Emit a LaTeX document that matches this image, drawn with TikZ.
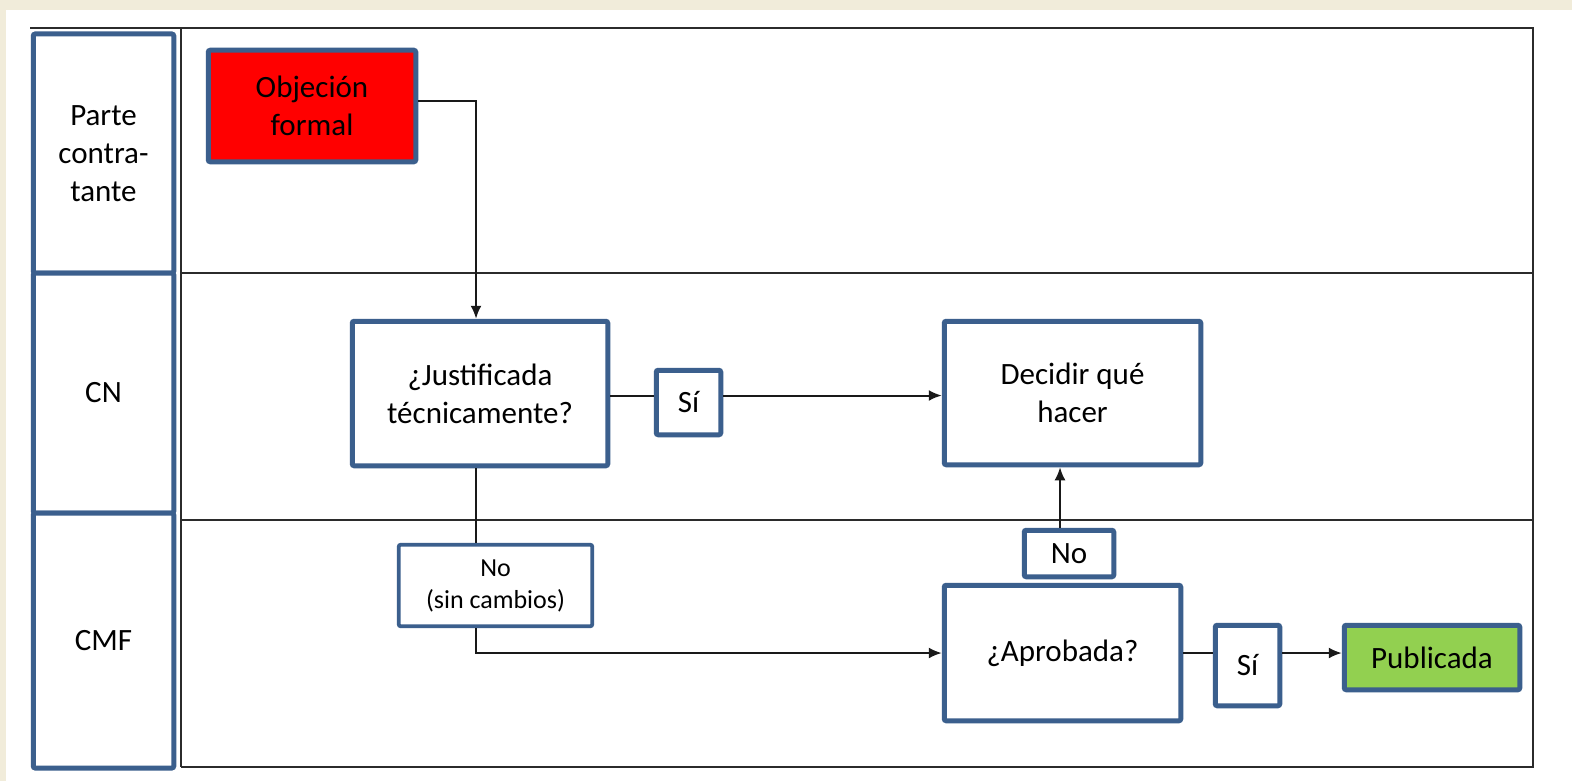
\documentclass[tikz,border=0pt]{standalone}
\usepackage{fontspec}
\setmainfont{Carlito}
\usepackage{xcolor}
\usepackage{tikz}
\usetikzlibrary{arrows.meta}
\definecolor{pagebg}{HTML}{F1ECDA}
\definecolor{boxbd}{HTML}{3B5F8D}
\definecolor{rule}{HTML}{2B2B2B}
\definecolor{objred}{HTML}{FF0000}
\definecolor{pubgreen}{HTML}{92D050}
\tikzset{
  flowbox/.style={draw=boxbd, line width=2.5pt, rounded corners=1pt, fill=white,
    align=center, inner sep=0pt, font=\fontsize{15.5}{19}\selectfont},
  lanebox/.style={flowbox, minimum width=70.25pt},
  smallbox/.style={flowbox, line width=1.9pt, font=\fontsize{13}{16}\selectfont},
  tablerule/.style={draw=rule, line width=1pt},
  conn/.style={draw=black!90, line width=1pt},
  arr/.style={conn, -{Latex[length=6.5pt,width=5.5pt]}}
}

\begin{document}
\begin{tikzpicture}[x=0.5pt, y=-0.5pt]
  \fill[pagebg] (0,0) rectangle (1572,781);
  \fill[white] (6,10) rectangle (1572,781);
  \useasboundingbox (0,0) rectangle (1572,781);

  % table rules
  \draw[tablerule] (30,28) -- (1533,28) -- (1533,767) -- (181,767);
  \draw[tablerule] (181,28) -- (181,767);
  \draw[tablerule] (181,273) -- (1533,273);
  \draw[tablerule] (181,520) -- (1533,520);

  % lane labels
  \node[lanebox, minimum height=119.5pt] (laneP) at (103.5,153.5) {Parte\\contra-\\tante};
  \node[lanebox, minimum height=120pt] (laneCN) at (103.5,393) {CN};
  \node[lanebox, minimum height=127.5pt] (laneCMF) at (103.5,640.5) {CMF};

  % steps
  \node[flowbox, fill=objred, minimum width=103.75pt, minimum height=55.75pt] (obj) at (312,106) {Objeción\\formal};
  \node[flowbox, minimum width=127.75pt, minimum height=72.25pt] (just) at (480,393.5) {¿Justificada\\técnicamente?};
  \node[flowbox, minimum width=32.25pt, minimum height=32.25pt] (si1) at (688.5,402.5) {Sí};
  \node[flowbox, minimum width=128.25pt, minimum height=71.75pt] (decidir) at (1072.5,393) {Decidir qué\\hacer};
  \node[smallbox, minimum width=96.75pt, minimum height=40.75pt] (nosin) at (495.5,585.5) {No\\(sin cambios)};
  \node[flowbox, minimum width=44.75pt, minimum height=23.25pt] (noa) at (1069,553.5) {No};
  \node[flowbox, minimum width=118.25pt, minimum height=67.75pt] (aprob) at (1062.5,653) {¿Aprobada?};
  \node[flowbox, minimum width=32.25pt, minimum height=40.25pt] (si2) at (1247.5,665.5) {Sí};
  \node[flowbox, fill=pubgreen, minimum width=87.75pt, minimum height=32.25pt] (pub) at (1432,657.5) {Publicada};

  % connectors
  \draw[arr] ([yshift=2.5pt]obj.east) -| ([xshift=-2pt]just.north);
  \draw[conn] ([yshift=-1pt]just.east) -- ([yshift=-1pt]just.east -| si1.west);
  \draw[arr] ([yshift=-1pt]just.east -| si1.east) -- ([yshift=-1pt]just.east -| decidir.west);
  \draw[conn] ([xshift=-2pt]just.south) -- ([xshift=-2pt]just.south |- nosin.north);
  \draw[arr] ([xshift=-2pt]just.south |- nosin.south) |- (aprob.west);
  \draw[arr] ([xshift=-4.5pt]noa.north) -- ([xshift=-4.5pt]noa.north |- decidir.south);
  \draw[conn] (aprob.east) -- (aprob.east -| si2.west);
  \draw[arr] (aprob.east -| si2.east) -- (aprob.east -| pub.west);
\end{tikzpicture}
\end{document}
